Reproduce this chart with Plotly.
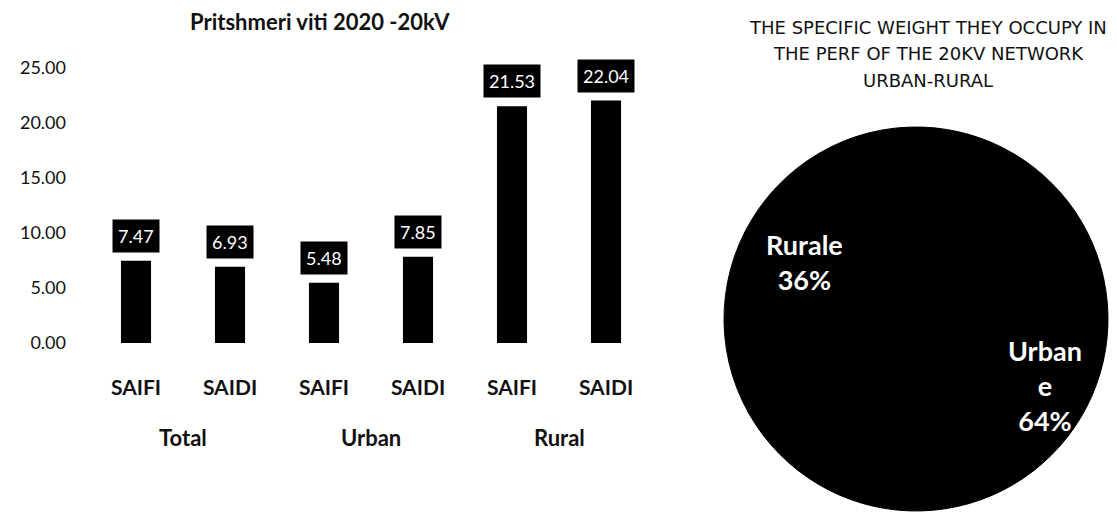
import math
import plotly.graph_objects as go

# bar chart data
metrics = ["SAIFI", "SAIDI", "SAIFI", "SAIDI", "SAIFI", "SAIDI"]
groups = ["Total", "Urban", "Rural"]
values = [7.47, 6.93, 5.48, 7.85, 21.53, 22.04]
y_ticks = [0, 5, 10, 15, 20, 25]

# pie data
pie_labels = ["Urban<br>e", "Rurale"]
pie_values = [64, 36]

FONT = "Lato"
OFF = 8  # page body margin; positions below are measured on the screen
W, H = 1117 - 2 * OFF, 522 - 2 * OFF


def px(x):
    return (x - OFF) / W


def py(y):
    return 1 - (y - OFF) / H


fig = go.Figure()

x_idx = list(range(len(values)))
fig.add_trace(go.Bar(
    x=x_idx, y=values, width=0.32,
    marker=dict(color="black", line=dict(width=0)),
    showlegend=False, hoverinfo="y",
))

# data labels as black boxes above the bars
for i, v in zip(x_idx, values):
    fig.add_annotation(
        x=i, y=v, xref="x", yref="y", text=f"{v:.2f}",
        showarrow=False, xanchor="center", yanchor="bottom", yshift=8,
        bgcolor="black", borderpad=5,
        font=dict(family=FONT, size=18, color="white"),
    )

# group labels under the category labels
for g, name in enumerate(groups):
    fig.add_annotation(
        x=2 * g + 0.5, y=py(437), xref="x", yref="paper",
        xanchor="center", yanchor="middle",
        text=f"<b>{name}</b>", showarrow=False,
        font=dict(family=FONT, size=22, color="#111"),
    )

# pie: both slices black, labels placed at slice mid-angles
rotation = 2
cx, cy, r = 916, 319, 192
fig.add_trace(go.Pie(
    labels=pie_labels, values=pie_values, sort=False,
    direction="clockwise", rotation=rotation,
    marker=dict(colors=["black", "black"], line=dict(color="black", width=1)),
    textinfo="none",
    domain=dict(x=[px(cx - r), min(1.0, px(cx + r))],
                y=[max(0.0, py(cy + r)), py(cy - r)]),
    showlegend=False, hoverinfo="label+percent",
))
total = sum(pie_values)
start = 0
label_dist = [145, 125]
for lab, val, d in zip(pie_labels, pie_values, label_dist):
    mid = math.radians(rotation + (start + val / 2) / total * 360)
    start += val
    lx = cx + d * math.sin(mid)
    ly = cy - d * math.cos(mid)
    fig.add_annotation(
        x=px(lx), y=py(ly), xref="paper", yref="paper",
        xanchor="center", yanchor="middle", showarrow=False,
        text=f"<b>{lab}<br>{val / total:.0%}</b>",
        font=dict(family=FONT, size=27, color="white"),
    )

# titles
fig.add_annotation(
    x=px(320), y=py(22), xref="paper", yref="paper",
    xanchor="center", yanchor="middle",
    text="<b>Pritshmeri viti 2020 -20kV</b>", showarrow=False,
    font=dict(family=FONT, size=22, color="#111"),
)
pie_title = ["THE SPECIFIC WEIGHT THEY OCCUPY IN",
             "THE PERF OF THE 20KV NETWORK",
             "URBAN-RURAL"]
for k, line in enumerate(pie_title):
    fig.add_annotation(
        x=px(928), y=py(27 + 26.5 * k), xref="paper", yref="paper",
        xanchor="center", yanchor="middle",
        text=line, showarrow=False,
        font=dict(family="DejaVu Sans", size=18, color="#111"),
    )

fig.update_layout(
    width=W, height=H,
    margin=dict(l=0, r=0, t=0, b=0),
    paper_bgcolor="white", plot_bgcolor="white",
    xaxis=dict(
        domain=[px(89), px(653)], range=[-0.5, 5.5],
        tickvals=x_idx, ticktext=[f"<b>{m}</b>" for m in metrics],
        showgrid=False, zeroline=False, showline=False, ticks="",
        ticklabelstandoff=30, automargin=False,
        tickfont=dict(family=FONT, size=21, color="#111"),
    ),
    yaxis=dict(
        domain=[py(343), py(68)], range=[0, 25],
        tickvals=y_ticks, tickformat=".2f",
        showgrid=False, zeroline=False, showline=False, ticks="",
        ticklabelstandoff=22, automargin=False,
        tickfont=dict(family=FONT, size=18, color="#111"),
    ),
)

fig.write_html("out.html")
